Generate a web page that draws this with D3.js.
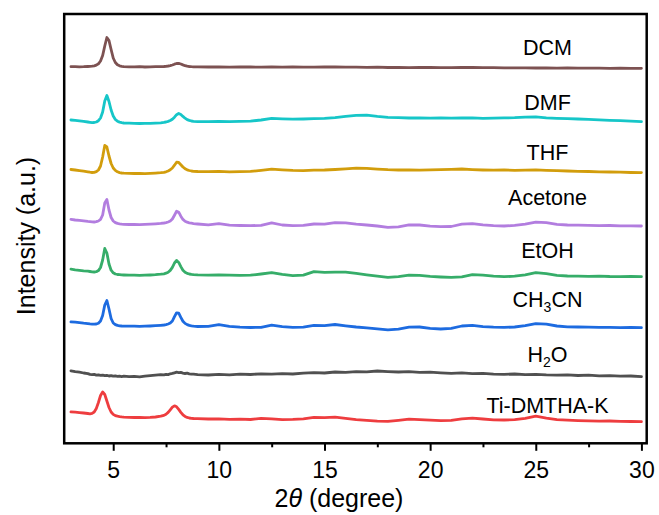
<!DOCTYPE html>
<html>
<head>
<meta charset="utf-8">
<script src="https://cdn.jsdelivr.net/npm/d3@7"></script>
<style>
  html, body { margin: 0; padding: 0; background: #fff; }
  svg { display: block; font-family: "Liberation Sans", Arial, sans-serif; }
</style>
</head>
<body>
<svg id="chart" width="659" height="515"></svg>
<script>
// 2θ positions shared by every pattern (finer steps around the two low-angle reflections)
const twoTheta = [
  3.0, 3.2, 3.4, 3.6, 3.8,
  3.9, 4.0, 4.1, 4.2, 4.3, 4.4, 4.5, 4.6, 4.7, 4.8, 4.9, 5.0, 5.1, 5.2, 5.3, 5.4, 5.5,
  5.75, 6.0, 6.25, 6.5, 6.75, 7.0, 7.25,
  7.4, 7.5, 7.6, 7.7, 7.8, 7.9, 8.0, 8.1, 8.2, 8.3, 8.4, 8.5, 8.6, 8.7, 8.8,
  9.0, 9.5, 10.0, 10.5, 11.0, 11.5, 12.0, 12.5, 13.0, 13.5,
  14.0, 14.5, 15.0, 15.5, 16.0, 16.5, 17.0, 17.5, 18.0, 18.5,
  19.0, 19.5, 20.0, 20.5, 21.0, 21.5, 22.0, 22.5, 23.0, 23.5,
  24.0, 24.5, 25.0, 25.5, 26.0, 26.5, 27.0, 27.5, 28.0, 28.5,
  29.0, 29.5, 30.0
];

// Stacked intensities (a.u., each pattern already offset upward)
const dcm = [
  376.3, 376.4, 376.2, 376.3, 376.5,
  376.6, 376.8, 377.2, 377.9, 379.2, 382.0, 387.5, 397.0, 405.5, 402.5, 393.5, 385.0, 380.5, 378.2, 377.2, 376.7, 376.4,
  376.2, 376.1, 376.3, 376.0, 376.2, 376.3, 376.4,
  376.5, 376.7, 377.0, 377.4, 378.0, 378.8, 379.5, 379.6, 379.0, 378.1, 377.3, 376.8, 376.5, 376.3, 376.2,
  376.2, 376.0, 376.2, 375.9, 376.1, 376.0, 375.8, 376.1, 375.9, 376.0,
  375.8, 375.9, 376.0, 376.2, 375.9, 375.8, 375.7, 375.8, 375.5, 375.6,
  375.4, 375.5, 375.5, 375.3, 375.4, 375.5, 375.6, 375.3, 375.4, 375.2,
  375.1, 375.2, 375.0, 375.1, 374.9, 375.0, 374.9, 374.8, 374.9, 374.7,
  374.8, 374.6, 374.7
];
const dmf = [
  323.0, 322.6, 322.1, 321.6, 321.0,
  320.7, 320.4, 320.5, 321.0, 322.3, 325.0, 331.0, 342.0, 347.5, 341.5, 333.0, 327.0, 323.5, 321.8, 320.9, 320.4, 320.0,
  319.8, 319.6, 319.5, 319.7, 319.6, 319.9, 320.2,
  320.6, 321.0, 321.6, 322.5, 323.8, 325.8, 328.3, 329.6, 328.6, 326.6, 324.8, 323.4, 322.6, 322.0, 321.7,
  321.4, 321.3, 321.5, 321.3, 321.6, 321.9, 323.0, 324.6, 324.2, 323.8,
  324.0, 324.3, 324.6, 325.4, 326.6, 327.6, 327.9, 326.6, 325.6, 325.3,
  325.0, 325.2, 324.9, 325.1, 324.8, 325.0, 325.2, 324.7, 324.9, 325.1,
  325.3, 325.9, 326.1, 325.2, 324.7, 324.3, 324.0, 323.6, 323.1, 322.7,
  322.3, 321.8, 321.4
];
const thf = [
  273.5, 273.0, 272.4, 271.8, 271.2,
  270.8, 270.5, 270.6, 271.3, 273.0, 277.0, 286.0, 297.5, 296.0, 287.0, 279.5, 275.0, 272.6, 271.2, 270.4, 270.0, 269.8,
  269.6, 269.5, 269.7, 269.4, 269.6, 269.9, 270.3,
  270.7, 271.2, 272.0, 273.2, 275.0, 277.8, 280.8, 280.5, 278.3, 276.0, 274.3, 273.2, 272.5, 272.0, 271.7,
  271.5, 271.3, 271.6, 271.2, 271.4, 271.6, 272.6, 273.8, 273.2, 272.6,
  272.4, 272.8, 273.0, 273.5, 274.2, 274.8, 274.6, 273.9, 273.3, 273.0,
  273.2, 272.9, 273.1, 273.3, 273.7, 274.0, 273.4, 273.0, 272.8, 273.0,
  272.7, 272.9, 273.1, 272.6, 272.3, 272.0, 271.7, 271.5, 271.2, 271.0,
  270.8, 270.5, 270.4
];
const acetone = [
  223.6, 223.0, 222.6, 222.1, 221.6,
  221.4, 221.2, 221.0, 221.3, 222.0, 223.6, 228.0, 240.0, 243.5, 233.0, 225.5, 222.0, 220.4, 219.6, 219.2, 218.9, 218.7,
  218.5, 218.7, 218.4, 218.6, 218.9, 219.2, 219.6,
  220.0, 220.4, 221.0, 222.0, 224.0, 227.8, 231.8, 230.8, 226.8, 223.6, 221.8, 220.8, 220.2, 219.8, 219.4,
  219.0, 218.2, 219.4, 217.8, 217.5, 217.4, 217.6, 220.2, 218.0, 217.4,
  217.6, 219.0, 218.8, 220.4, 220.2, 218.8, 218.0, 217.0, 215.6, 216.2,
  218.2, 218.0, 216.8, 216.4, 216.5, 218.8, 219.4, 218.2, 217.4, 217.0,
  217.6, 218.8, 220.8, 220.4, 218.6, 218.0, 217.8, 217.6, 217.4, 217.5,
  217.2, 217.1, 217.0
];
const etoh = [
  173.8, 173.2, 172.7, 172.2, 171.8,
  171.5, 171.2, 171.0, 171.3, 172.4, 175.5, 183.0, 194.5, 190.0, 179.0, 172.8, 170.2, 169.0, 168.5, 168.3, 168.1, 168.0,
  167.8, 167.9, 167.6, 167.8, 168.0, 168.3, 168.8,
  169.2, 169.8, 170.8, 172.6, 175.6, 180.0, 182.6, 180.6, 176.4, 172.8, 170.8, 169.6, 169.0, 168.6, 168.3,
  168.1, 167.9, 168.2, 167.8, 167.6, 167.8, 169.0, 170.4, 168.6, 167.4,
  167.8, 171.4, 170.6, 170.8, 170.9, 169.6, 168.2, 166.8, 165.6, 166.4,
  167.8, 167.6, 166.6, 166.0, 165.6, 166.2, 168.4, 167.8, 166.8, 166.3,
  166.8, 168.2, 170.4, 169.4, 167.6, 167.0, 166.8, 166.6, 166.9, 166.5,
  166.4, 166.6, 166.3
];
const ch3cn = [
  121.2, 120.8, 120.3, 119.8, 119.4,
  119.1, 118.9, 118.8, 119.0, 119.8, 122.0, 127.5, 138.0, 142.5, 134.0, 124.5, 120.0, 118.4, 117.6, 117.2, 117.0, 116.9,
  116.8, 116.9, 116.6, 116.8, 117.0, 117.3, 117.7,
  118.0, 118.4, 119.0, 120.0, 122.0, 126.4, 130.2, 129.8, 125.6, 121.8, 119.6, 118.4, 117.6, 117.1, 116.8,
  116.5, 116.6, 118.4, 116.6, 115.8, 115.5, 115.6, 117.8, 116.4, 115.6,
  115.8, 117.6, 117.4, 118.5, 117.2, 116.0, 115.2, 114.2, 113.2, 113.8,
  115.8, 116.0, 114.6, 114.0, 114.6, 117.0, 117.6, 116.4, 115.8, 115.6,
  116.0, 117.4, 119.4, 118.8, 117.0, 116.2, 116.0, 115.8, 115.6, 115.7,
  115.4, 115.5, 115.3
];
const h2o = [
  72.2, 71.4, 70.9, 70.0, 69.4,
  68.6, 68.3, 68.6, 67.9, 68.2, 67.6, 67.9, 67.3, 67.6, 67.0, 67.4, 66.8, 67.1, 66.6, 66.9, 66.4, 66.8,
  66.3, 66.7, 66.2, 66.9, 67.4, 67.8, 68.3,
  68.1, 68.7, 68.4, 69.2, 69.6, 70.2, 70.8, 70.4, 70.6, 69.9, 69.5, 69.8, 69.1, 68.8, 68.9,
  68.4, 68.0, 68.6, 68.2, 68.9, 68.5, 69.2, 68.8, 69.4, 69.0,
  69.8, 70.3, 70.0, 71.0, 70.6, 71.4, 71.2, 72.0, 71.4, 71.0,
  71.3, 70.6, 70.9, 70.2, 69.7, 70.1, 69.4, 69.7, 68.9, 68.6,
  69.0, 68.4, 68.7, 68.1, 67.8, 68.2, 67.5, 67.8, 67.1, 67.4,
  66.8, 67.0, 66.4
];
const tiDmthaK = [
  31.2, 30.8, 30.4, 30.0, 29.5,
  29.2, 29.6, 31.0, 34.5, 40.5, 47.5, 51.0, 48.5, 42.0, 35.5, 31.0, 28.6, 27.4, 26.8, 26.4, 26.1, 25.9,
  25.7, 25.5, 25.6, 25.4, 25.6, 26.0, 26.8,
  27.6, 28.8, 30.6, 33.2, 35.8, 37.2, 36.2, 33.6, 30.6, 28.2, 26.6, 25.6, 25.0, 24.7, 24.5,
  24.3, 24.0, 24.1, 23.6, 23.8, 23.5, 24.6, 24.2, 23.4, 23.6,
  24.2, 25.6, 25.4, 25.8, 24.6, 23.4, 22.6, 21.8, 21.6, 22.6,
  23.8, 23.4, 22.8, 22.4, 22.6, 24.2, 24.9, 24.0, 23.2, 23.0,
  23.4, 24.6, 26.8, 24.8, 23.4, 22.8, 22.4, 22.2, 21.8, 22.0,
  21.6, 21.5, 21.3
];

// Sample names (an underscore marks a one-character subscript)
const sampleNames = ["DCM", "DMF", "THF", "Acetone", "EtOH", "CH_3CN", "H_2O", "Ti-DMTHA-K"];
const sampleSeries = [dcm, dmf, thf, acetone, etoh, ch3cn, h2o, tiDmthaK];
// Height (a.u.) of each name label's baseline
const labelLevels = [388, 333, 283, 238, 185, 136, 81, 30];

// Axis ticks
const majorTicks = [5, 10, 15, 20, 25, 30];
const minorTicks = [7.5, 12.5, 17.5, 22.5, 27.5];

// Styling
const lineColors = ["#7d5252", "#16c6c8", "#d29d0c", "#b27ddf", "#36ad69", "#1d6be0", "#505050", "#ee3d3f"];

const svg = d3.select("#chart");
const box = { left: 64.2, right: 646.7, top: 14, bottom: 443.3 };

const x = d3.scaleLinear().domain([2.68, 30.25]).range([box.left, box.right]);
const y = d3.scaleLinear().domain([0, 430]).range([443, 13]);

const line = d3.line()
  .x(d => x(d[0]))
  .y(d => y(d[1]));

// Patterns
const plot = svg.append("g");
sampleSeries.forEach((vals, i) => {
  const pts = d3.zip(twoTheta, vals);
  plot.append("path")
    .datum(pts)
    .attr("d", line)
    .attr("fill", "none")
    .attr("stroke", lineColors[i])
    .attr("stroke-width", 2.8)
    .attr("stroke-linejoin", "round")
    .attr("stroke-linecap", "round");
});

// Sample labels
sampleNames.forEach((name, i) => {
  const t = svg.append("text")
    .attr("x", 547.5)
    .attr("y", y(labelLevels[i]))
    .attr("text-anchor", "middle")
    .attr("font-size", 21.5)
    .attr("fill", "#000");
  const parts = name.split(/_(.)/);
  parts.forEach((p, k) => {
    if (p === "") return;
    const isSub = k % 2 === 1;
    const ts = t.append("tspan").text(p);
    if (isSub) {
      ts.attr("font-size", 14).attr("dy", 5);
    } else if (k > 0) {
      ts.attr("dy", -5);
    }
  });
});

// Bottom axis: major and minor ticks
const axisG = svg.append("g").attr("transform", `translate(0,${box.bottom})`);
axisG.call(d3.axisBottom(x).tickValues(majorTicks).tickSize(7.5).tickFormat(d3.format("d")))
  .call(g => g.select(".domain").remove())
  .call(g => g.selectAll(".tick line").attr("stroke", "#000").attr("stroke-width", 2))
  .call(g => g.selectAll(".tick text")
    .attr("y", 34.7).attr("dy", 0)
    .attr("font-size", 23)
    .attr("font-family", "Liberation Sans, Arial, sans-serif")
    .attr("fill", "#000"));

const minorG = svg.append("g").attr("transform", `translate(0,${box.bottom})`);
minorG.call(d3.axisBottom(x).tickValues(minorTicks).tickSize(4).tickFormat(""))
  .call(g => g.select(".domain").remove())
  .call(g => g.selectAll(".tick line").attr("stroke", "#000").attr("stroke-width", 2));

// Frame
svg.append("rect")
  .attr("x", box.left)
  .attr("y", box.top)
  .attr("width", box.right - box.left)
  .attr("height", box.bottom - box.top)
  .attr("fill", "none")
  .attr("stroke", "#000")
  .attr("stroke-width", 2.5);

// Axis titles
const xTitle = svg.append("text")
  .attr("x", 339)
  .attr("y", 507)
  .attr("text-anchor", "middle")
  .attr("font-size", 25)
  .attr("fill", "#000");
xTitle.append("tspan").text("2");
xTitle.append("tspan").attr("font-style", "italic").text("θ");
xTitle.append("tspan").text(" (degree)");

svg.append("text")
  .attr("transform", "translate(35,236) rotate(-90)")
  .attr("text-anchor", "middle")
  .attr("font-size", 25)
  .attr("fill", "#000")
  .text("Intensity (a.u.)");
</script>
</body>
</html>
